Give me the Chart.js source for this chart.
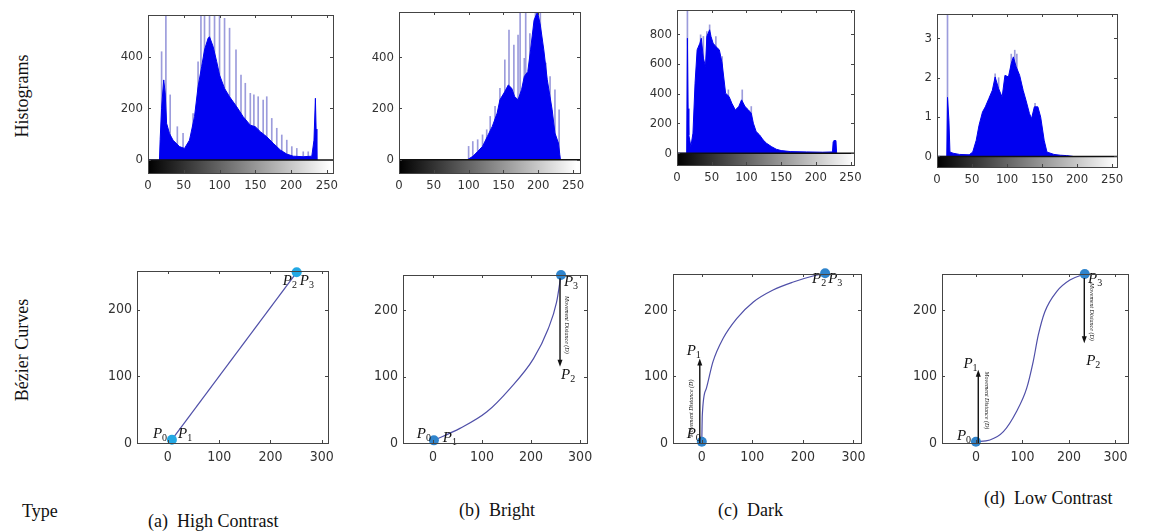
<!DOCTYPE html>
<html>
<head>
<meta charset="utf-8">
<script src="https://cdn.jsdelivr.net/npm/chart.js@4.4.0/dist/chart.umd.min.js"></script>
<style>
  body { margin: 0; width: 1151px; height: 531px; background: #fff; position: relative; overflow: hidden;
         font-family: 'Liberation Serif', 'Times New Roman', serif; }
  canvas { position: absolute; }
  .lbl { position: absolute; font-size: 18px; line-height: 20px; color: #111; white-space: pre; }
  .rot { transform: rotate(-90deg); text-align: center; }
</style>
</head>
<body>
<div class="lbl rot" style="left:-38px;top:86px;width:120px;">Histograms</div>
<div class="lbl rot" style="left:-48px;top:340px;width:140px;">Bézier Curves</div>
<div class="lbl" style="left:22px;top:501px;">Type</div>
<div class="lbl" style="left:148px;top:511px;">(a)  High Contrast</div>
<div class="lbl" style="left:459px;top:500px;">(b)  Bright</div>
<div class="lbl" style="left:718px;top:500px;">(c)  Dark</div>
<div class="lbl" style="left:984px;top:488px;">(d)  Low Contrast</div>

<canvas id="hist-a"></canvas>
<canvas id="hist-b"></canvas>
<canvas id="hist-c"></canvas>
<canvas id="hist-d"></canvas>
<canvas id="curve-a"></canvas>
<canvas id="curve-b"></canvas>
<canvas id="curve-c"></canvas>
<canvas id="curve-d"></canvas>

<script>
// 刻度
const HIST_X_TICKS = [0, 50, 100, 150, 200, 250];
const HIST_AB_Y_TICKS = [0, 200, 400];
const HIST_C_Y_TICKS = [0, 200, 400, 600, 800];
const HIST_D_Y_TICKS = [0, 1, 2, 3];
const CURVE_X_TICKS = [0, 100, 200, 300];
const CURVE_Y_TICKS = [0, 100, 200];

// (a) 高对比度直方图
const HIST_A_X = [0, 16, 17, 19, 20, 22, 24, 26, 30, 35, 44, 51, 58, 65, 70, 75, 79, 84, 86, 91, 96, 100, 107, 114, 124, 133, 143, 150, 157, 166, 175, 185, 194, 203, 217, 229, 232, 234, 235, 236];
const HIST_A_Y = [0, 0, 80, 200, 240, 310, 260, 142, 103, 77, 52, 45, 77, 168, 284, 361, 426, 471, 477, 439, 381, 329, 277, 245, 206, 168, 135, 129, 110, 90, 65, 39, 23, 15, 13, 15, 77, 239, 120, 0];
const SPIKE_A_X = [19, 25, 31, 41, 49, 63, 70, 74, 79, 86, 93, 100, 107, 114, 123, 130, 136, 143, 148, 154, 161, 166, 173, 180, 187, 194, 201, 208, 217, 224];
const SPIKE_A_Y = [419, 560, 252, 129, 103, 180, 380, 560, 560, 560, 560, 560, 548, 510, 426, 329, 297, 258, 252, 245, 232, 245, 161, 123, 97, 77, 52, 45, 32, 32];

// (b) 亮图直方图
const HIST_B_X = [0, 98, 100, 106, 113, 120, 127, 134, 141, 145, 152, 157, 162, 166, 171, 176, 180, 185, 189, 194, 199, 203, 208, 213, 220, 224, 229, 231, 232];
const HIST_B_Y = [0, 0, 3, 13, 32, 52, 91, 130, 182, 234, 266, 292, 279, 247, 234, 273, 325, 344, 429, 545, 578, 526, 429, 312, 195, 104, 65, 20, 0];
const SPIKE_B_X = [100, 106, 113, 120, 126, 131, 138, 145, 152, 158, 165, 171, 174, 180, 182, 188, 196, 203, 211, 217, 224, 230];
const SPIKE_B_Y = [52, 71, 78, 97, 117, 169, 208, 279, 390, 506, 448, 487, 580, 396, 580, 493, 580, 580, 377, 325, 273, 195];

// (c) 暗图直方图
const HIST_C_X = [0, 14, 15, 16, 17, 20, 23, 26, 29, 33, 35, 38, 41, 43, 47, 49, 52, 56, 61, 65, 70, 75, 79, 84, 89, 93, 98, 103, 107, 110, 114, 119, 124, 129, 136, 143, 150, 164, 187, 210, 224, 225, 226, 229, 230];
const HIST_C_Y = [0, 0, 773, 300, 123, 45, 135, 471, 695, 740, 773, 639, 583, 785, 830, 785, 740, 717, 695, 605, 404, 381, 336, 291, 314, 359, 314, 291, 269, 202, 146, 123, 90, 67, 45, 27, 18, 11, 9, 7, 9, 78, 85, 85, 0];
const SPIKE_C_X = [15, 34, 38, 43, 47, 56, 65, 74, 94, 107];
const SPIKE_C_Y = [960, 796, 785, 818, 863, 785, 650, 426, 426, 314];

// (d) 低对比度直方图
const HIST_D_X = [0, 14, 15, 17, 18.5, 23, 32, 46, 51, 56, 60, 65, 69, 74, 79, 83, 88, 93, 97, 102, 106, 109, 113, 118, 123, 127, 132, 135, 139, 144, 148, 153, 157, 167, 176, 185, 194];
const HIST_D_Y = [0, 0, 1.5, 0.92, 0.11, 0.08, 0.05, 0.04, 0.11, 0.41, 0.79, 1.13, 1.26, 1.47, 1.68, 2.02, 1.72, 1.51, 2.06, 2.02, 2.36, 2.53, 2.28, 2.06, 1.68, 1.43, 1.09, 0.96, 1.26, 1.26, 1.0, 0.41, 0.11, 0.05, 0.03, 0.02, 0];
const SPIKE_D_X = [15, 83, 88, 106, 111, 114, 140];
const SPIKE_D_Y = [3.6, 2.1, 2.0, 2.6, 2.7, 2.6, 1.35];

// Bézier 曲线（从图上读取的点）
const CURVE_A_X = [8, 251];
const CURVE_A_Y = [5, 256];
const CURVE_B_X = [2, 55, 110, 157, 205, 235, 252, 261];
const CURVE_B_Y = [4, 22, 47, 82, 127, 172, 212, 253];
const CURVE_C_X = [0, 1, 9, 22, 42, 69, 102, 141, 181, 220, 244];
const CURVE_C_Y = [2, 42, 82, 122, 157, 187, 212, 230, 242, 251, 255];
const CURVE_D_X = [0, 30, 59, 87, 109, 123, 134, 148, 174, 202, 234];
const CURVE_D_Y = [2, 4.5, 17, 47, 82, 122, 162, 197, 228, 245, 254];

// 控制点 P0 / P3
const CTRL_A_X = [8, 251];
const CTRL_A_Y = [5, 256];
const CTRL_B_X = [2, 261];
const CTRL_B_Y = [4, 253];
const CTRL_C_X = [0, 244];
const CTRL_C_Y = [2, 255];
const CTRL_D_X = [0, 234];
const CTRL_D_Y = [2, 254];

// 标注（文字和箭头）
const NOTES = {
  'curve-a': {
    labels: [{ s: '0', x: -29, y: 8 }, { s: '1', x: 20, y: 8 }, { s: '2', x: 224, y: 237 }, { s: '3', x: 257, y: 237 }],
    arrows: [], texts: []
  },
  'curve-b': {
    labels: [{ s: '0', x: -33, y: 8 }, { s: '1', x: 20, y: 2 }, { s: '3', x: 267, y: 236 }, { s: '2', x: 261, y: 96 }],
    arrows: [{ x: 259, y0: 248, y1: 115 }],
    texts: [{ x: 273, y: 178, rot: 1 }]
  },
  'curve-c': {
    labels: [{ s: '0', x: -30, y: 7 }, { s: '1', x: -30, y: 132 }, { s: '2', x: 218, y: 240 }, { s: '3', x: 250, y: 240 }],
    arrows: [{ x: -4, y0: 0, y1: 127 }],
    texts: [{ x: -20, y: 52, rot: -1 }]
  },
  'curve-d': {
    labels: [{ s: '0', x: -41, y: 4.5 }, { s: '1', x: -27, y: 112 }, { s: '3', x: 241, y: 240 }, { s: '2', x: 237, y: 117 }],
    arrows: [{ x: 5, y0: 0, y1: 110 }, { x: 233, y0: 248, y1: 150 }],
    texts: [{ x: 23, y: 64, rot: 1 }, { x: 249, y: 197, rot: 1 }]
  }
};

const Y_W = 44, X_H = 28, PAD = 10;
const BLUE = '#0000f0';
const SPIKE = '#9c9cdc';
const CURVE = '#4f4fa8';
const TICK_FONT = "'Liberation Sans Narrow', 'DejaVu Sans Condensed', sans-serif";

// 根据绘图区位置放置画布
function place(canvas, area) {
  canvas.style.left = (area[0] - Y_W) + 'px';
  canvas.style.top = (area[1] - PAD) + 'px';
  canvas.width = area[2] - area[0] + Y_W + PAD;
  canvas.height = area[3] - area[1] + PAD + X_H;
}

function pts(xs, ys) {
  return xs.map((x, i) => ({ x: x, y: ys[i] }));
}

function fitX(scale) {
  scale.height = X_H;
  scale.paddingLeft = scale.paddingRight = 0;
}
function fitY(scale) {
  scale.width = Y_W;
  scale.paddingTop = scale.paddingBottom = 0;
}

// 边框 + 内向刻度
const framePlugin = {
  id: 'frame',
  afterDraw(chart) {
    const ctx = chart.ctx, a = chart.chartArea;
    ctx.save();
    ctx.strokeStyle = '#444';
    ctx.lineWidth = 1;
    ctx.strokeRect(Math.round(a.left) + 0.5, Math.round(a.top) + 0.5, Math.round(a.right - a.left), Math.round(a.bottom - a.top));
    ctx.beginPath();
    chart.scales.x.ticks.forEach(t => {
      const x = Math.round(chart.scales.x.getPixelForValue(t.value)) + 0.5;
      ctx.moveTo(x, a.top); ctx.lineTo(x, a.top + 3);
      ctx.moveTo(x, a.bottom); ctx.lineTo(x, a.bottom - 3);
    });
    chart.scales.y.ticks.forEach(t => {
      const y = Math.round(chart.scales.y.getPixelForValue(t.value)) + 0.5;
      ctx.moveTo(a.left, y); ctx.lineTo(a.left + 3, y);
      ctx.moveTo(a.right, y); ctx.lineTo(a.right - 3, y);
    });
    ctx.stroke();
    ctx.restore();
  }
};

// 直方图下方灰度条
const colorbarPlugin = {
  id: 'colorbar',
  afterDatasetsDraw(chart) {
    const ctx = chart.ctx, a = chart.chartArea;
    const xs = chart.scales.x, ys = chart.scales.y;
    const y0 = ys.getPixelForValue(0);
    const g = ctx.createLinearGradient(xs.getPixelForValue(0), 0, xs.getPixelForValue(255), 0);
    g.addColorStop(0, '#000');
    g.addColorStop(1, '#fff');
    ctx.save();
    ctx.fillStyle = g;
    ctx.fillRect(a.left, y0, a.right - a.left, a.bottom - y0);
    ctx.strokeStyle = '#111';
    ctx.lineWidth = 1.5;
    ctx.beginPath();
    ctx.moveTo(a.left, y0); ctx.lineTo(a.right, y0);
    ctx.stroke();
    ctx.restore();
  }
};

// P 标签、箭头、旋转文字
const notesPlugin = {
  id: 'notes',
  afterDatasetsDraw(chart) {
    const n = NOTES[chart.canvas.id];
    if (!n) return;
    const ctx = chart.ctx, xs = chart.scales.x, ys = chart.scales.y;
    ctx.save();
    ctx.fillStyle = '#111';
    ctx.strokeStyle = '#111';
    n.arrows.forEach(ar => {
      const x = xs.getPixelForValue(ar.x);
      const y0 = ys.getPixelForValue(ar.y0), y1 = ys.getPixelForValue(ar.y1);
      const dir = y1 > y0 ? 1 : -1;
      ctx.lineWidth = 1.4;
      ctx.beginPath(); ctx.moveTo(x, y0); ctx.lineTo(x, y1 - dir * 5); ctx.stroke();
      ctx.beginPath(); ctx.moveTo(x, y1); ctx.lineTo(x - 2.5, y1 - dir * 7); ctx.lineTo(x + 2.5, y1 - dir * 7); ctx.closePath(); ctx.fill();
    });
    n.texts.forEach(t => {
      ctx.save();
      ctx.translate(xs.getPixelForValue(t.x), ys.getPixelForValue(t.y));
      ctx.rotate(t.rot * Math.PI / 2);
      ctx.font = "italic 6px 'Liberation Serif'";
      ctx.textAlign = 'center';
      ctx.textBaseline = 'middle';
      ctx.fillText('Movement Distance (D)', 0, 0);
      ctx.restore();
    });
    n.labels.forEach(l => {
      const x = xs.getPixelForValue(l.x), y = ys.getPixelForValue(l.y);
      ctx.font = "italic 15px 'Liberation Serif'";
      ctx.textBaseline = 'alphabetic';
      ctx.fillText('P', x, y);
      const w = ctx.measureText('P').width;
      ctx.font = "10px 'Liberation Serif'";
      ctx.fillText(l.s, x + w, y + 3);
    });
    ctx.restore();
  }
};

function axes(xMin, xMax, xTicks, yMin, yMax, yTicks, size) {
  const font = { family: TICK_FONT, size: size };
  return {
    x: {
      type: 'linear', min: xMin, max: xMax, offset: false,
      grid: { display: false, drawTicks: false, offset: false }, border: { display: false },
      ticks: { font: font, color: '#333', padding: size === 13 ? 5 : 6, maxRotation: 0, autoSkip: false },
      afterBuildTicks: s => { s.ticks = xTicks.map(v => ({ value: v })); },
      afterFit: fitX
    },
    y: {
      type: 'linear', min: yMin, max: yMax,
      grid: { display: false, drawTicks: false }, border: { display: false },
      ticks: { font: font, color: '#333', padding: 5, autoSkip: false },
      afterBuildTicks: s => { s.ticks = yTicks.map(v => ({ value: v })); },
      afterFit: fitY
    }
  };
}

function baseOptions(scales) {
  return {
    responsive: false,
    animation: false,
    events: [],
    layout: { padding: { left: 0, top: PAD, right: PAD, bottom: 0 } },
    plugins: { legend: { display: false }, tooltip: { enabled: false } },
    scales: scales
  };
}

// 画直方图
function renderHist(id, area, fx, fy, sx, sy, xMax, yMin, yMax, yTicks) {
  const canvas = document.getElementById(id);
  place(canvas, area);
  return new Chart(canvas, {
    type: 'line',
    data: {
      datasets: [
        {
          type: 'line', data: pts(fx, fy), order: 1,
          borderColor: BLUE, backgroundColor: BLUE, borderWidth: 1,
          pointRadius: 0, fill: 'origin', tension: 0
        },
        {
          type: 'bar', data: pts(sx, sy), order: 2,
          backgroundColor: SPIKE, barThickness: 1
        }
      ]
    },
    options: baseOptions(axes(0, xMax, HIST_X_TICKS, yMin, yMax, yTicks, 13)),
    plugins: [colorbarPlugin, framePlugin]
  });
}

// 画 Bézier 曲线
function renderCurve(id, area, cx, cy, px, py, xMin, xMax, yMax, markColor) {
  const canvas = document.getElementById(id);
  place(canvas, area);
  return new Chart(canvas, {
    type: 'line',
    data: {
      datasets: [
        {
          data: pts(cx, cy), order: 2,
          borderColor: CURVE, borderWidth: 1.2, pointRadius: 0,
          fill: false, cubicInterpolationMode: 'monotone'
        },
        {
          data: pts(px, py), order: 1, showLine: false, clip: false,
          pointRadius: 5, pointBackgroundColor: markColor, pointBorderWidth: 0
        }
      ]
    },
    options: baseOptions(axes(xMin, xMax, CURVE_X_TICKS, 0, yMax, CURVE_Y_TICKS, 14)),
    plugins: [framePlugin, notesPlugin]
  });
}

renderHist('hist-a', [148, 15, 333, 173], HIST_A_X, HIST_A_Y, SPIKE_A_X, SPIKE_A_Y, 258.6, -50, 561, HIST_AB_Y_TICKS);
renderHist('hist-b', [399, 12, 580, 173], HIST_B_X, HIST_B_Y, SPIKE_B_X, SPIKE_B_Y, 260, -52, 577, HIST_AB_Y_TICKS);
renderHist('hist-c', [677, 10, 854, 165], HIST_C_X, HIST_C_Y, SPIKE_C_X, SPIKE_C_Y, 255, -79, 963, HIST_C_Y_TICKS);
renderHist('hist-d', [937, 14, 1117, 167], HIST_D_X, HIST_D_Y, SPIKE_D_X, SPIKE_D_Y, 257, -0.27, 3.62, HIST_D_Y_TICKS);

renderCurve('curve-a', [137, 271, 328, 443], CURVE_A_X, CURVE_A_Y, CTRL_A_X, CTRL_A_Y, -60, 312, 258, '#22a8e4');
renderCurve('curve-b', [403, 275, 587, 443], CURVE_B_X, CURVE_B_Y, CTRL_B_X, CTRL_B_Y, -61, 314, 253, '#2f84cc');
renderCurve('curve-c', [673, 274, 861, 443], CURVE_C_X, CURVE_C_Y, CTRL_C_X, CTRL_C_Y, -57, 315, 254, '#2f84cc');
renderCurve('curve-d', [942, 274, 1128, 443], CURVE_D_X, CURVE_D_Y, CTRL_D_X, CTRL_D_Y, -73, 327, 254, '#2f84cc');
</script>
</body>
</html>
